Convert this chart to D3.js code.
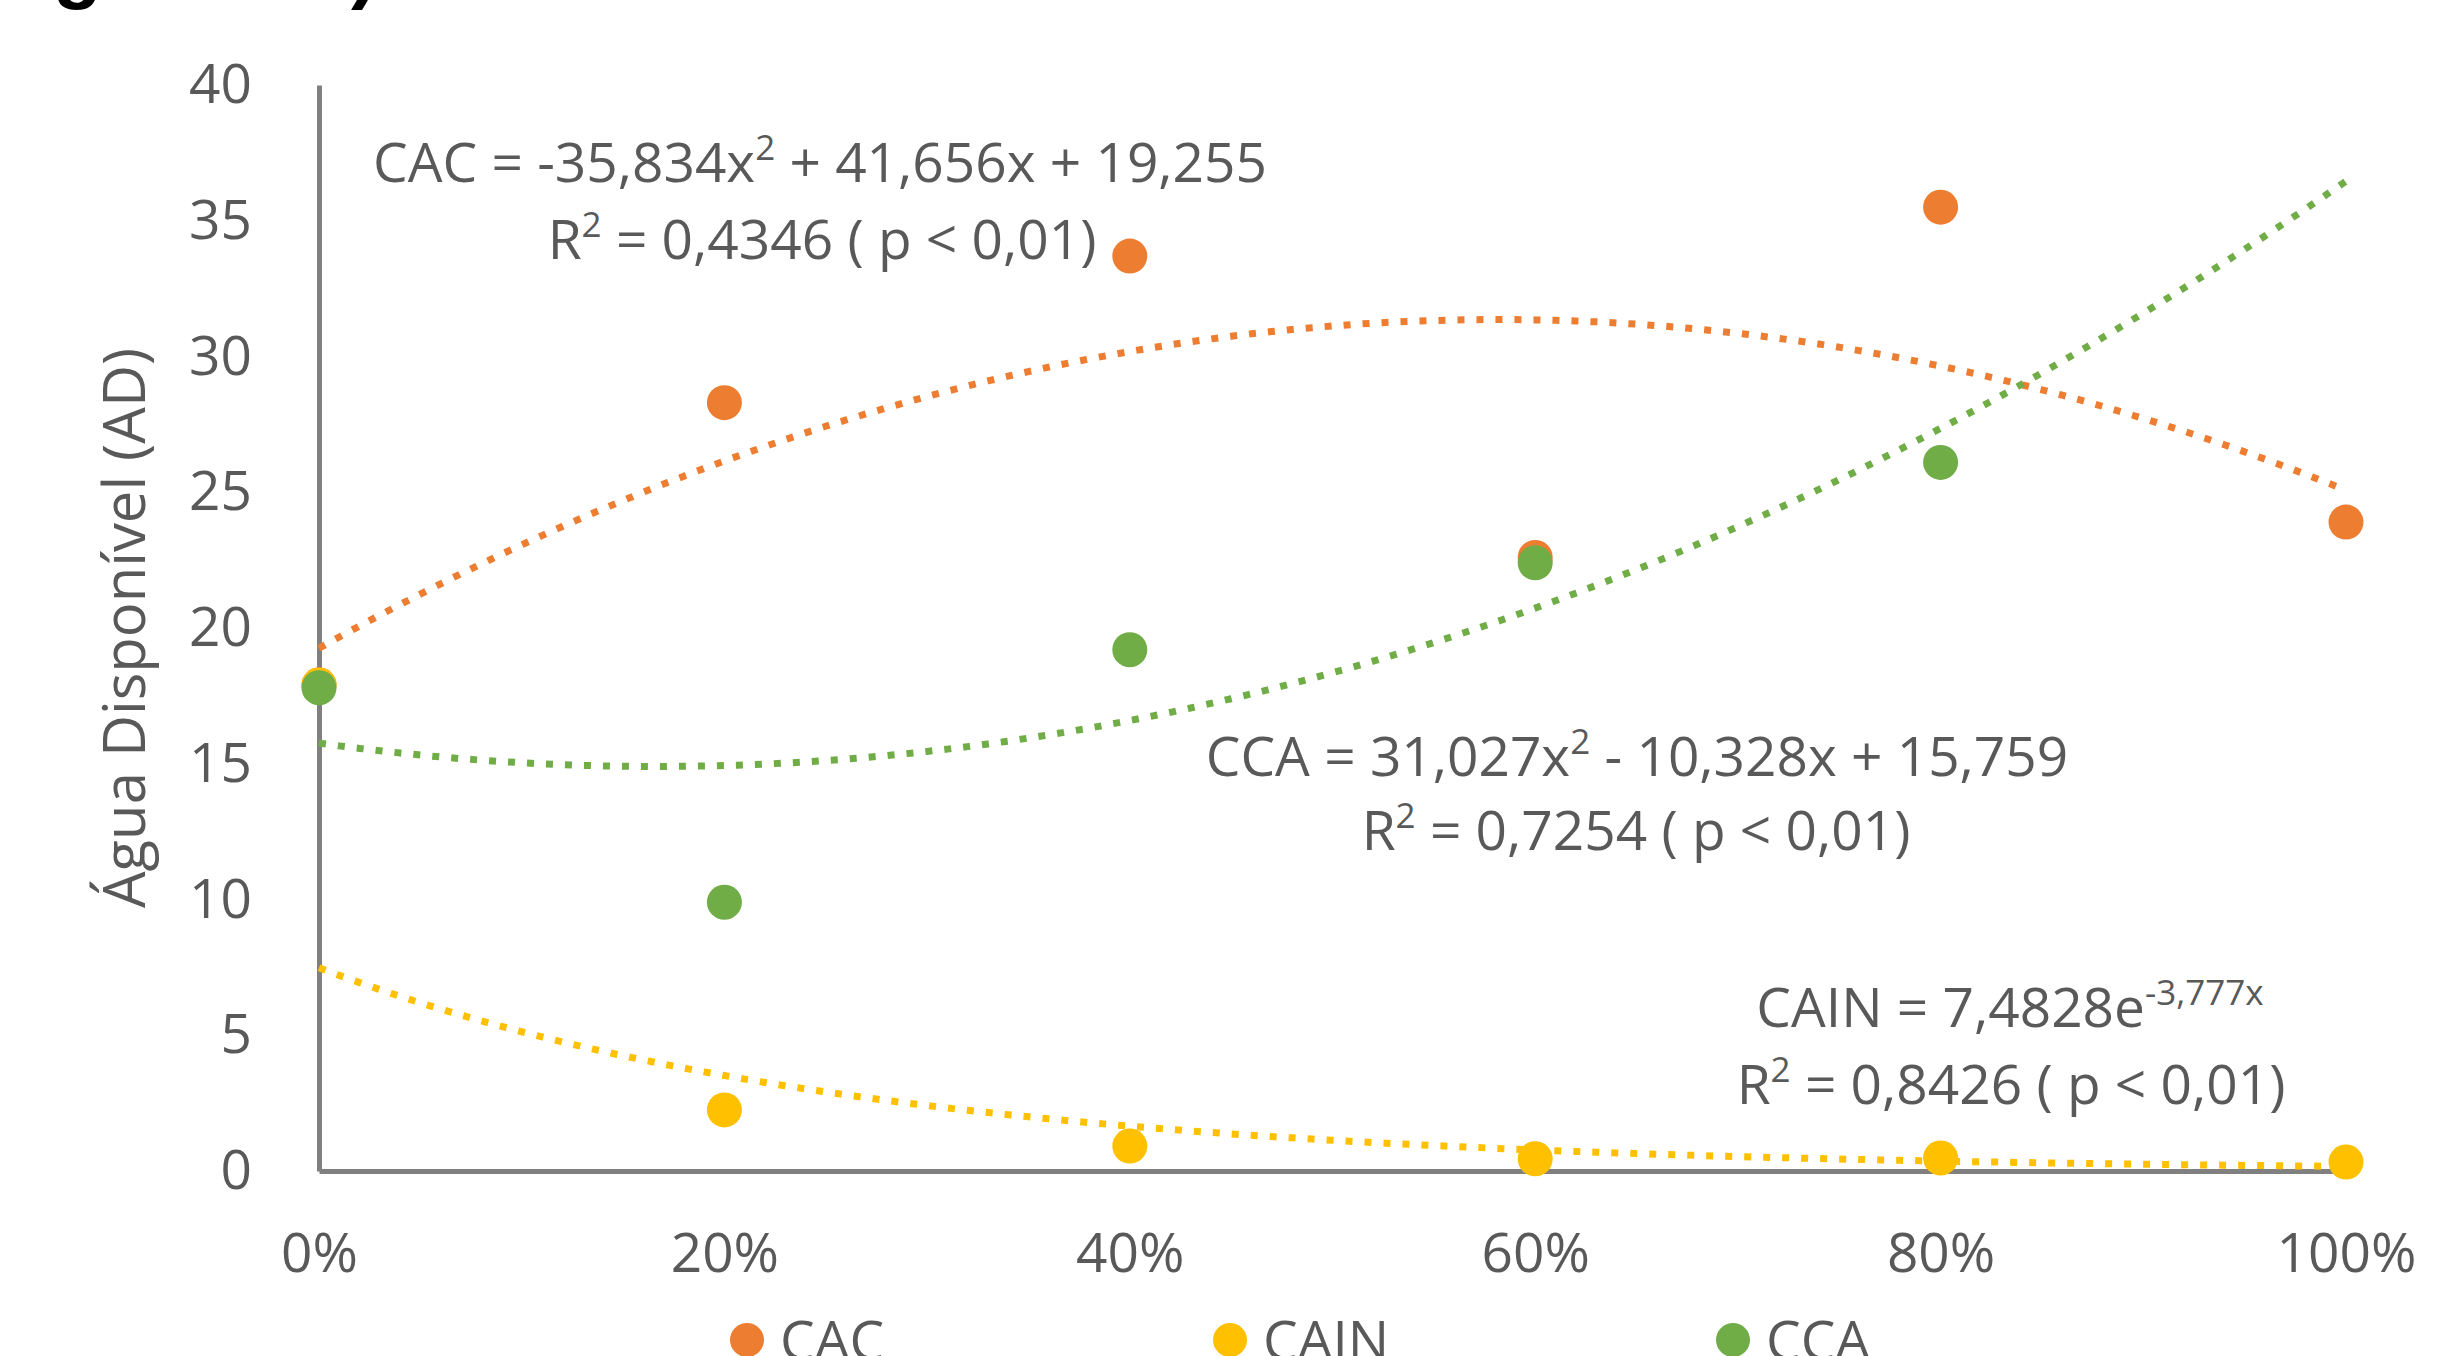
<!DOCTYPE html>
<html>
<head>
<meta charset="utf-8">
<script src="https://cdn.jsdelivr.net/npm/d3@7"></script>
<style>
  body { margin: 0; background: #fff; }
  svg { display: block; }
  text { font-family: "Open Sans", "Noto Sans", sans-serif; fill: #595959; }
</style>
</head>
<body>
<div id="chart"></div>
<script>
// data
var doses = [0, 0.2, 0.4, 0.6, 0.8, 1.0];
var cac  = [17.9, 28.3, 33.7, 22.6, 35.5, 23.9];
var cain = [17.9, 2.25, 0.92, 0.45, 0.48, 0.33];
var cca  = [17.8, 9.9, 19.2, 22.4, 26.1, null];
var seriesNames = ["CAC", "CAIN", "CCA"];
var colors = ["#ED7D31", "#FFC000", "#70AD47"];
var yTicks = [0, 5, 10, 15, 20, 25, 30, 35, 40];
var xTicks = [0, 0.2, 0.4, 0.6, 0.8, 1.0];

// trendline coefficients printed on the chart
var cacCoef = [-35.834, 41.656, 19.255];   // a x^2 + b x + c
var ccaCoef = [31.027, -10.328, 15.759];
var cainCoef = [7.4828, -3.777];           // a e^(b x)

var W = 2462, H = 1356;
var svg = d3.select("#chart").append("svg")
    .attr("width", W)
    .attr("height", H);

var x = d3.scaleLinear().domain([0, 1]).range([319, 2346]);
var y = d3.scaleLinear().domain([0, 40]).range([1171, 85]);

// cut-off heading at the very top
svg.append("text")
    .attr("x", -18)
    .attr("y", -7)
    .style("font-family", "'Liberation Sans', Arial, sans-serif")
    .style("font-weight", "bold")
    .style("font-size", "80px")
    .style("fill", "#000")
    .text("Figura 1B)");

// axes
var yAxis = svg.append("g")
    .attr("transform", "translate(" + x(0) + ",0)")
    .call(d3.axisLeft(y).tickValues(yTicks).tickSize(0).tickPadding(67));

var xAxis = svg.append("g")
    .attr("transform", "translate(0," + y(0) + ")")
    .call(d3.axisBottom(x).tickValues(xTicks).tickFormat(d3.format(".0%")).tickSize(0).tickPadding(62));

[yAxis, xAxis].forEach(function(g){
    g.select(".domain").attr("stroke", "#808080").attr("stroke-width", 5);
    g.selectAll("text")
        .style("font-family", "'Open Sans', sans-serif")
        .style("font-size", "55px")
        .attr("fill", "#595959");
});

// y title
svg.append("text")
    .attr("transform", "translate(145," + ((y(0) + y(40)) / 2) + ") rotate(-90)")
    .attr("text-anchor", "middle")
    .style("font-size", "58px")
    .text("Água Disponível (AD)");

// points
var allSeries = [cac, cain, cca];
allSeries.forEach(function(vals, s){
    svg.append("g")
        .selectAll("circle")
        .data(vals.map(function(v, i){ return {x: doses[i], v: v}; })
                  .filter(function(d){ return d.v !== null; }))
        .enter()
        .append("circle")
        .attr("cx", function(d){ return x(d.x); })
        .attr("cy", function(d){ return y(d.v); })
        .attr("r", 17.5)
        .attr("fill", colors[s]);
});

// trendlines
var fits = [
    function(t){ return cacCoef[0] * t * t + cacCoef[1] * t + cacCoef[2]; },
    function(t){ return cainCoef[0] * Math.exp(cainCoef[1] * t); },
    function(t){ return ccaCoef[0] * t * t + ccaCoef[1] * t + ccaCoef[2]; }
];
var samples = d3.range(0, 1.0001, 0.01);
var line = d3.line()
    .x(function(d){ return x(d[0]); })
    .y(function(d){ return y(d[1]); })
    .curve(d3.curveLinear);

fits.forEach(function(f, s){
    svg.append("path")
        .datum(samples.map(function(t){ return [t, f(t)]; }))
        .attr("d", line)
        .attr("fill", "none")
        .attr("stroke", colors[s])
        .attr("stroke-width", 7)
        .attr("stroke-dasharray", "7,12");
});

// equation labels
function eqLabel(cx, by, parts){
    var t = svg.append("text")
        .attr("x", cx)
        .attr("y", by)
        .attr("text-anchor", "middle")
        .style("font-size", "55px");
    var raised = false;
    parts.forEach(function(p){
        if (typeof p === "object") {
            t.append("tspan").attr("dy", -22).style("font-size", "35px").text(p.up);
            raised = true;
        } else {
            var ts = t.append("tspan").text(p);
            if (raised) { ts.attr("dy", 22); raised = false; }
        }
    });
}

eqLabel(820, 182, ["CAC = -35,834x", {up: "2"}, " + 41,656x + 19,255"]);
eqLabel(822, 259, ["R", {up: "2"}, " = 0,4346 ( p < 0,01)"]);
eqLabel(1637, 776, ["CCA = 31,027x", {up: "2"}, " - 10,328x + 15,759"]);
eqLabel(1636, 850, ["R", {up: "2"}, " = 0,7254 ( p < 0,01)"]);
eqLabel(2010, 1027, ["CAIN = 7,4828e", {up: "-3,777x"}]);
eqLabel(2011, 1104, ["R", {up: "2"}, " = 0,8426 ( p < 0,01)"]);

// legend (cut off at the bottom edge)
var legendX = [747, 1230, 1733];
var legend = svg.append("g")
    .selectAll("g")
    .data(seriesNames)
    .enter()
    .append("g")
    .attr("transform", function(d, i){ return "translate(" + legendX[i] + ",1340)"; });

legend.append("circle")
    .attr("r", 17)
    .attr("fill", function(d, i){ return colors[i]; });

legend.append("text")
    .attr("x", 33)
    .attr("y", 20)
    .style("font-size", "55px")
    .text(function(d){ return d; });
</script>
</body>
</html>
